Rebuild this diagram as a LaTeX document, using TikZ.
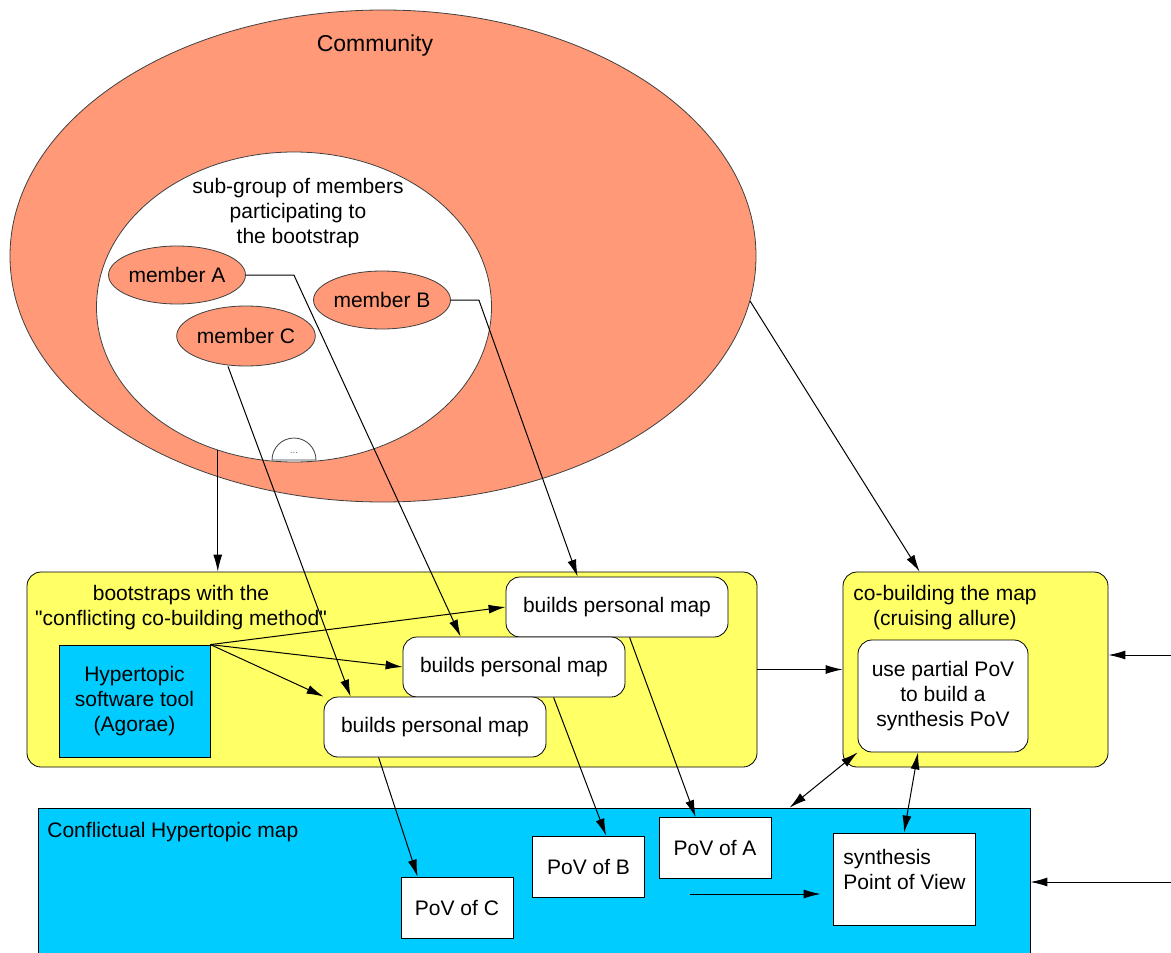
\documentclass[tikz,border=0pt]{standalone}
\usepackage{fontspec}
\setmainfont{Liberation Sans}
\usetikzlibrary{shapes.geometric}
\usetikzlibrary{arrows.meta}
\usetikzlibrary{positioning}

\definecolor{salmon}{RGB}{255,153,119}
\definecolor{lemon}{RGB}{255,255,102}
\definecolor{sky}{RGB}{0,204,255}

\begin{document}
\begin{tikzpicture}[x=0.5pt,y=-0.5pt,
	font=\fontsize{10.5}{12.5}\selectfont,
	arr/.style={-{Latex[length=8.5pt,width=4.5pt]},line width=0.5pt},
	biarr/.style={{Latex[length=8.5pt,width=4.5pt]}-{Latex[length=8.5pt,width=4.5pt]},line width=0.5pt},
	blob/.style={ellipse,draw=black!75,fill=salmon,inner sep=0pt},
	phase/.style={draw,rounded corners=7pt,fill=lemon,inner sep=0pt},
	task/.style={draw,rounded corners=7pt,fill=white,minimum width=111pt,minimum height=30pt},
	pov/.style={draw,fill=white,minimum width=56pt,minimum height=30.5pt}]
	\useasboundingbox (0,0) rectangle (1171,952);
	% the community and its sub-group
	\node[blob,minimum width=373pt,minimum height=246pt] (community) at (383,256) {};
	\node[font=\fontsize{11.5}{13}\selectfont] (commlabel) at (375,46) {Community};
	\node[ellipse,draw=black!75,fill=white,minimum width=197.5pt,minimum height=155pt] (subgroup) at (294,307) {};
	\node[align=center] (sglabel) at (298,213) {sub-group of members\\participating to\\the bootstrap};
	\draw[draw=black!75,fill=white] (272,460) arc[start angle=180,end angle=0,radius=11pt] -- cycle;
	\node[font=\tiny,text=black!60] (dots) at (294,453) {...};
	\node[blob,minimum width=65pt,minimum height=29pt] (memA) at (177,275) {member A};
	\node[blob,minimum width=64pt,minimum height=29pt] (memB) at (382,300) {member B};
	\node[blob,minimum width=64pt,minimum height=30pt] (memC) at (246,336) {member C};
	% bootstrap phase
	\node[phase,minimum width=365pt,minimum height=97.5pt] (boot) at (392,669.5) {};
	\node[align=center] (bootlabel) at (181,608) {bootstraps with the\\\textquotedbl conflicting co-building method\textquotedbl};
	\node[draw,fill=sky,align=center,minimum width=75.5pt,minimum height=56pt] (tool) at (134.5,701) {Hypertopic\\software tool\\(Agorae)};
	\node[task] (bpmtop) at (617,607) {builds personal map};
	\node[task] (bpmmid) at (514,667) {builds personal map};
	\node[task] (bpmlow) at (435,727) {builds personal map};
	% cruising phase
	\node[phase,minimum width=132.5pt,minimum height=97.5pt] (cobuild) at (975.5,669.5) {};
	\node[align=center] (cobuildlabel) at (945,608) {co-building the map\\(cruising allure)};
	\node[draw,rounded corners=7pt,fill=white,align=center,minimum width=85pt,minimum height=56pt] (partial) at (943,696) {use partial PoV\\to build a\\synthesis PoV};
	% the map
	\node[draw,fill=sky,minimum width=496pt,minimum height=81pt] (hmap) at (534,889) {};
	\node[anchor=west,inner sep=1pt] (hmaplabel) at (45,832) {Conflictual Hypertopic map};
	\node[pov] (povC) at (457,907.5) {PoV of C};
	\node[pov] (povB) at (588.5,866.5) {PoV of B};
	\node[pov] (povA) at (715,848) {PoV of A};
	\node[pov,minimum width=71pt,minimum height=46pt] (synth) at (904,879) {};
	\node[anchor=west,align=left,inner sep=1pt] (synthlabel) at (841,869) {synthesis\\Point of View};
	% connectors
	\draw[arr] (subgroup.-118) -- (subgroup.-118 |- boot.north);
	\draw[arr] (community.-7) -- ([xshift=38.5pt]cobuild.north west);
	\draw[arr] (memA.east) -- ++(48,0) -- ([xshift=29pt]bpmmid.north west);
	\draw[arr] (memB.east) -- ++(28,0) -- ([xshift=36pt]bpmtop.north west);
	\draw[arr] ([xshift=-9pt]memC.south) -- ([xshift=13.5pt]bpmlow.north west);
	\draw[arr] (tool.north east) -- (bpmtop.west);
	\draw[arr] (tool.north east) -- (bpmmid.west);
	\draw[arr] (tool.north east) -- (bpmlow.north west);
	\draw[arr] (boot.east) -- (cobuild.west);
	\draw[arr] ([xshift=62pt]bpmtop.south west) -- ([xshift=18.5pt]povA.north west);
	\draw[arr] ([xshift=75.5pt]bpmmid.south west) -- ([xshift=37pt]povB.north west);
	\draw[arr] ([xshift=27.5pt]bpmlow.south west) -- ([xshift=8.5pt]povC.north west);
	\draw[biarr] ([xshift=376pt]hmap.north west) -- (partial.south west);
	\draw[biarr] (synth.north) -- ([xshift=-12.5pt]partial.south);
	\coordinate (feedA) at (1171,655);
	\draw[arr] (feedA) -- (feedA -| cobuild.east);
	\coordinate (feedB) at (1171,882);
	\draw[arr] (feedB) -- (feedB -| hmap.east);
	\coordinate (merge) at (690,894);
	\draw[arr,shorten >=6pt] (merge) -- (merge -| synth.west);
\end{tikzpicture}
\end{document}
